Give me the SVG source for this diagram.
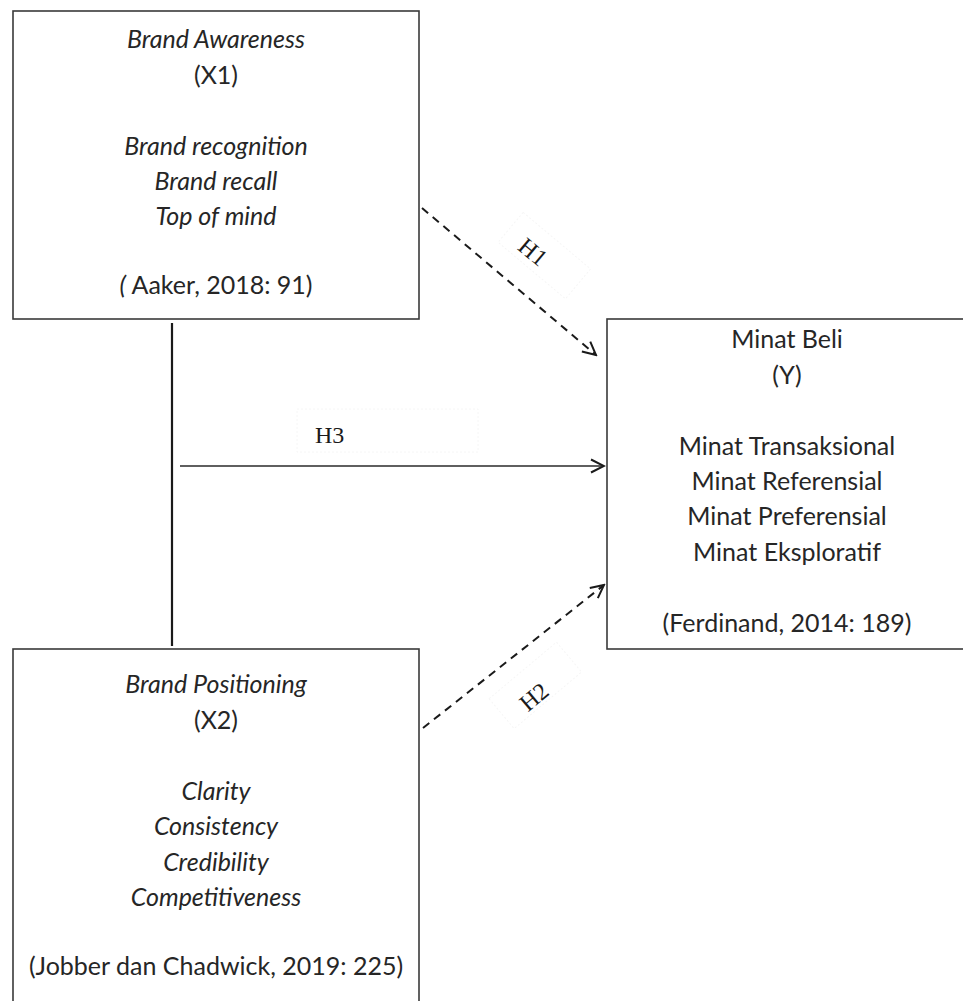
<svg xmlns="http://www.w3.org/2000/svg" width="963" height="1001" viewBox="0 0 963 1001">
<style>
.box{fill:#fff;stroke:#3a3a3a;stroke-width:1.6}
.t{font-family:Lato,"Liberation Sans",sans-serif;font-size:25px;fill:#262626;text-anchor:middle}
.i{font-style:italic}
.lbl{font-family:"Liberation Serif","Times New Roman",serif;font-size:24px;fill:#1a1a1a}
.lb{fill:#fff;stroke:#f6f6f6;stroke-width:1;stroke-dasharray:2 2}
.c{fill:none;stroke:#2a2a2a;stroke-width:1.6}
.d{fill:none;stroke:#1a1a1a;stroke-width:2;stroke-dasharray:8 6}
</style>
<defs>
<marker id="ah" markerWidth="16" markerHeight="16" viewBox="0 0 16 16" refX="14" refY="8" orient="auto" markerUnits="userSpaceOnUse">
<path d="M1,1.5 L14,8 L1,14.5" fill="none" stroke="#1a1a1a" stroke-width="2"/>
</marker>
</defs>
<rect width="963" height="1001" fill="#fff"/>
<g id="connectors">
<line x1="172" y1="323" x2="172" y2="646" stroke="#1a1a1a" stroke-width="2.2"/>
<line class="c" x1="180" y1="466" x2="604" y2="466" marker-end="url(#ah)"/>
<line class="d" x1="422" y1="208" x2="596" y2="355" marker-end="url(#ah)"/>
<line class="d" x1="423" y1="728" x2="604" y2="585" marker-end="url(#ah)"/>
</g>
<g id="label-h1">
<rect class="lb" x="500" y="236" width="88" height="39" transform="rotate(40 544 256)"/>
<text class="lbl" x="533" y="260" text-anchor="middle" transform="rotate(40 533 252)">H1</text>
</g>
<g id="label-h2">
<rect class="lb" x="491" y="666" width="88" height="39" transform="rotate(-40 535 685)"/>
<text class="lbl" x="534" y="705" text-anchor="middle" transform="rotate(-40 534 697)">H2</text>
</g>
<g id="label-h3">
<rect class="lb" x="297" y="409" width="181" height="43"/>
<text class="lbl" x="315" y="443">H3</text>
</g>
<g id="node-x1">
<rect class="box" x="13" y="11" width="406" height="308"/>
<text class="t i" x="216" y="48">Brand Awareness</text>
<text class="t" x="216" y="84">(X1)</text>
<text class="t i" x="216" y="155">Brand recognition</text>
<text class="t i" x="216" y="190">Brand recall</text>
<text class="t i" x="216" y="225">Top of mind</text>
<text class="t" x="216" y="294"><tspan class="i">(</tspan> Aaker, 2018: 91)</text>
</g>
<g id="node-y">
<rect class="box" x="607" y="319" width="370" height="330"/>
<text class="t" x="787" y="348">Minat Beli</text>
<text class="t" x="787" y="384">(Y)</text>
<text class="t" x="787" y="455">Minat Transaksional</text>
<text class="t" x="787" y="490">Minat Referensial</text>
<text class="t" x="787" y="525">Minat Preferensial</text>
<text class="t" x="787" y="561">Minat Eksploratif</text>
<text class="t" x="787" y="632">(Ferdinand, 2014: 189)</text>
</g>
<g id="node-x2">
<rect class="box" x="13" y="649" width="406" height="370"/>
<text class="t i" x="216" y="693">Brand Positioning</text>
<text class="t" x="216" y="729">(X2)</text>
<text class="t i" x="216" y="800">Clarity</text>
<text class="t i" x="216" y="835">Consistency</text>
<text class="t i" x="216" y="871">Credibility</text>
<text class="t i" x="216" y="906">Competitiveness</text>
<text class="t" x="216" y="975">(Jobber dan Chadwick, 2019: 225)</text>
</g>
</svg>
